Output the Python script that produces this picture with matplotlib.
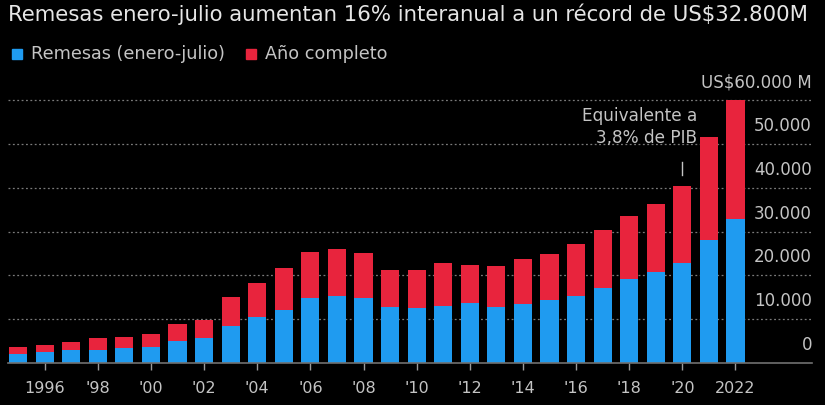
import numpy as np
from matplotlib import pyplot as plt
from matplotlib.patches import Rectangle

# años y remesas en millones de US$
anios = np.arange(1995, 2023)
ene_jul = np.array([2100, 2400, 3000, 3000, 3400, 3700, 5100, 5800, 8500, 10600,
                    12100, 14900, 15300, 14800, 12900, 12500, 13100, 13800, 12900, 13500,
                    14400, 15300, 17100, 19200, 20700, 22900, 28100, 32800])
anio_completo = np.array([3600, 4100, 4900, 5800, 6000, 6600, 8900, 9800, 15000, 18200,
                          21600, 25400, 26000, 25200, 21200, 21300, 22800, 22500, 22200, 23700,
                          24800, 27100, 30400, 33600, 36300, 40400, 51600, 60000])

y_ticks = [0, 10000, 20000, 30000, 40000, 50000, 60000]
y_labels = ['0', '10.000', '20.000', '30.000', '40.000', '50.000', 'US$60.000 M']
x_ticks = np.arange(1996, 2023, 2)
x_labels = ['1996'] + ["'%02d" % (a % 100) for a in x_ticks[1:-1]] + ['2022']

azul = '#1f9bf0'
rojo = '#e8243d'
gris = '#c4c4c4'

W, H = 825, 405
fig = plt.figure(figsize=(W / 100, H / 100), dpi=100, facecolor='black')
ax = fig.add_axes([8 / W, 42 / H, 804 / W, (363 - 91.6) / H])
ax.set_facecolor('black')

ax.bar(anios, ene_jul, width=0.68, color=azul)
ax.bar(anios, anio_completo - ene_jul, bottom=ene_jul, width=0.68, color=rojo)

ax.set_xlim(1994.62, 2024.88)
ax.set_ylim(0, 62000)

for v in y_ticks[1:]:
    ax.axhline(v, color='#7a7a7a', lw=0.9, ls=(0, (1.5, 2)), zorder=0)
for v, t in zip(y_ticks, y_labels):
    ax.annotate(t, (2024.88, v), xytext=(0, 13), textcoords='offset points',
                ha='right', va='center', color=gris, fontsize=12)

ax.set_yticks([])
ax.set_xticks(x_ticks)
ax.set_xticklabels(x_labels, fontsize=11.5, color=gris)
ax.tick_params(axis='x', length=5, width=1, color='#9a9a9a', pad=8)
for s in ['top', 'left', 'right']:
    ax.spines[s].set_visible(False)
ax.spines['bottom'].set_color('#707070')
ax.spines['bottom'].set_linewidth(1.2)

# nota 2022
ax.text(2020.55, 53900, 'Equivalente a\n3,8% de PIB', ha='right', va='center',
        multialignment='right', color=gris, fontsize=12.2, linespacing=1.3)
ax.plot([2020, 2020], [43000, 45900], color=gris, lw=1)

fig.text(8 / W, 1 - 14 / H, 'Remesas enero-julio aumentan 16% interanual a un récord de US$32.800M',
         color='#e6e6e6', fontsize=15.3, va='center', ha='left')

# leyenda
fig.patches.append(Rectangle((12 / W, 1 - 59 / H), 10 / W, 10 / H, color=azul,
                             transform=fig.transFigure, figure=fig))
fig.text(31 / W, 1 - 54 / H, 'Remesas (enero-julio)', color=gris, fontsize=12.7, va='center')
fig.patches.append(Rectangle((246 / W, 1 - 59 / H), 10 / W, 10 / H, color=rojo,
                             transform=fig.transFigure, figure=fig))
fig.text(265 / W, 1 - 54 / H, 'Año completo', color=gris, fontsize=12.7, va='center')

fig.savefig('out.png', dpi=100, facecolor='black')
